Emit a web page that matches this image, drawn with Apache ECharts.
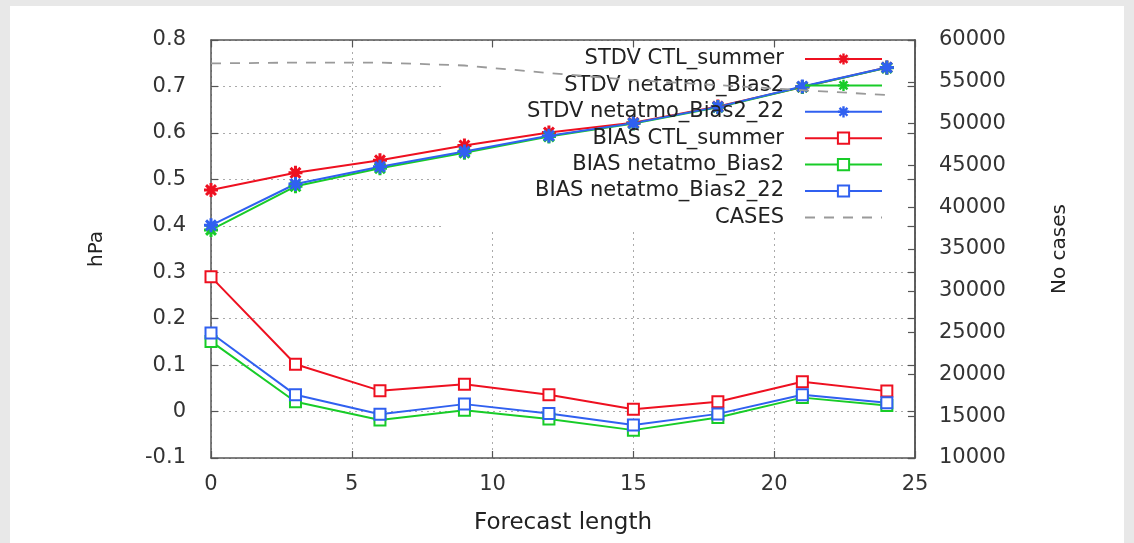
<!DOCTYPE html>
<html><head><meta charset="utf-8">
<script src="https://cdn.jsdelivr.net/npm/echarts@6/dist/echarts.min.js"></script>
<style>html,body{margin:0;padding:0;background:#e8e8e8;} #c{width:1134px;height:543px;}</style>
</head><body><div id="c"></div>
<script>
// ---- data ----
const forecastLength = [0, 3, 6, 9, 12, 15, 18, 21, 24];
const stdvCtlSummer  = [0.477, 0.514, 0.541, 0.573, 0.601, 0.622, 0.657, 0.699, 0.741];
const stdvBias2      = [0.391, 0.485, 0.524, 0.557, 0.592, 0.620, 0.655, 0.699, 0.740];
const stdvBias2_22   = [0.401, 0.490, 0.527, 0.560, 0.594, 0.621, 0.656, 0.700, 0.741];
const biasCtlSummer  = [0.290, 0.102, 0.045, 0.059, 0.036, 0.005, 0.021, 0.064, 0.044];
const biasBias2      = [0.151, 0.021, -0.018, 0.003, -0.016, -0.040, -0.013, 0.030, 0.013];
const biasBias2_22   = [0.169, 0.036, -0.006, 0.016, -0.004, -0.029, -0.005, 0.036, 0.019];
const cases          = [57200, 57300, 57300, 56950, 56050, 55200, 54600, 54000, 53420];
const seriesNames = ['STDV CTL_summer', 'STDV netatmo_Bias2', 'STDV netatmo_Bias2_22',
                     'BIAS CTL_summer', 'BIAS netatmo_Bias2', 'BIAS netatmo_Bias2_22', 'CASES'];
const xTitle = 'Forecast length';
const yTitle = 'hPa';
const y2Title = 'No cases';

// ---- styling ----
const RED = '#ee1020', GREEN = '#18cc28', BLUE = '#3060f0', GRAY = '#9a9a9a';
const FONT = 'DejaVu Sans';
const STAR = 'path://M-1.5,-7L1.5,-7L1.5,7L-1.5,7Z M-7,-1.5L7,-1.5L7,1.5L-7,1.5Z M3.89,6.01L-6.01,-3.89L-3.89,-6.01L6.01,3.89Z M6.01,-3.89L-3.89,6.01L-6.01,3.89L3.89,-6.01Z';
const pairs = arr => forecastLength.map((x, i) => [x, arr[i]]);
const frame = {show: true, onZero: false, lineStyle: {color: '#555', width: 1.5}};
const tickIn = {show: true, inside: true, length: 7, lineStyle: {color: '#555', width: 1.2}};
const grid = {show: true, lineStyle: {color: '#aaa', width: 1, type: [2, 4]}};

function stdv(name, data, color) {
  return {name, type: 'line', data: pairs(data), symbol: STAR, symbolSize: 14,
    lineStyle: {color, width: 2}, itemStyle: {color, borderWidth: 0}, z: 3};
}
function bias(name, data, color) {
  return {name, type: 'line', data: pairs(data), symbol: 'emptyRect', symbolSize: 11,
    lineStyle: {color, width: 2}, itemStyle: {color, borderColor: color, borderWidth: 1.8}, z: 3};
}

const chart = echarts.init(document.getElementById('c'));
chart.setOption({
  backgroundColor: '#e8e8e8',
  animation: false,
  graphic: [
    {type: 'rect', z: -10, shape: {x: 10, y: 6, width: 1114, height: 537}, style: {fill: '#ffffff'}},
    {type: 'rect', z: 1, shape: {x: 445, y: 49, width: 460, height: 180}, style: {fill: '#ffffff'}}
  ],
  grid: {left: 211, right: 219, top: 40, bottom: 85},
  legend: {
    orient: 'vertical', align: 'right', right: 251, top: 48, padding: 0,
    itemWidth: 77, itemHeight: 14, itemGap: 4.4,
    textStyle: {fontFamily: FONT, fontSize: 21, color: '#222', lineHeight: 22, padding: [0, 16, 0, 0]},
    data: seriesNames.slice(0, 6).concat([{name: seriesNames[6], itemStyle: {opacity: 0}}])
  },
  xAxis: [
    {type: 'value', position: 'bottom', min: 0, max: 25, interval: 5,
     name: xTitle, nameLocation: 'middle', nameGap: 54,
     nameTextStyle: {fontFamily: FONT, fontSize: 23, color: '#222'},
     axisLine: frame, axisTick: tickIn, splitLine: grid,
     axisLabel: {fontFamily: FONT, fontSize: 21, color: '#333', margin: 16}},
    {type: 'value', position: 'top', min: 0, max: 25, interval: 5,
     axisLine: frame, axisTick: tickIn, splitLine: {show: false}, axisLabel: {show: false}}
  ],
  yAxis: [
    {type: 'value', position: 'left', min: -0.1, max: 0.8, interval: 0.1,
     name: yTitle, nameLocation: 'middle', nameGap: 104, nameRotate: 90,
     nameTextStyle: {fontFamily: FONT, fontSize: 20, color: '#222'},
     axisLine: frame, axisTick: tickIn, splitLine: grid,
     axisLabel: {fontFamily: FONT, fontSize: 21, color: '#333', margin: 25}},
    {type: 'value', position: 'right', min: 10000, max: 60000, interval: 5000,
     name: y2Title, nameLocation: 'middle', nameGap: 135, nameRotate: 90,
     nameTextStyle: {fontFamily: FONT, fontSize: 20, color: '#222'},
     axisLine: frame, axisTick: tickIn, splitLine: {show: false},
     axisLabel: {fontFamily: FONT, fontSize: 21, color: '#333', margin: 24, formatter: v => String(v)}},
    {type: 'value', position: 'right', min: -0.1, max: 0.8, interval: 0.1,
     axisLine: frame, axisTick: tickIn, splitLine: {show: false}, axisLabel: {show: false}}
  ],
  series: [
    stdv(seriesNames[0], stdvCtlSummer, RED),
    stdv(seriesNames[1], stdvBias2, GREEN),
    stdv(seriesNames[2], stdvBias2_22, BLUE),
    bias(seriesNames[3], biasCtlSummer, RED),
    bias(seriesNames[4], biasBias2, GREEN),
    bias(seriesNames[5], biasBias2_22, BLUE),
    {name: seriesNames[6], type: 'line', yAxisIndex: 1, data: pairs(cases), showSymbol: false,
     symbol: 'none', lineStyle: {color: GRAY, width: 1.8, type: [10, 9]}, itemStyle: {color: GRAY}, z: 4}
  ]
});
</script></body></html>
